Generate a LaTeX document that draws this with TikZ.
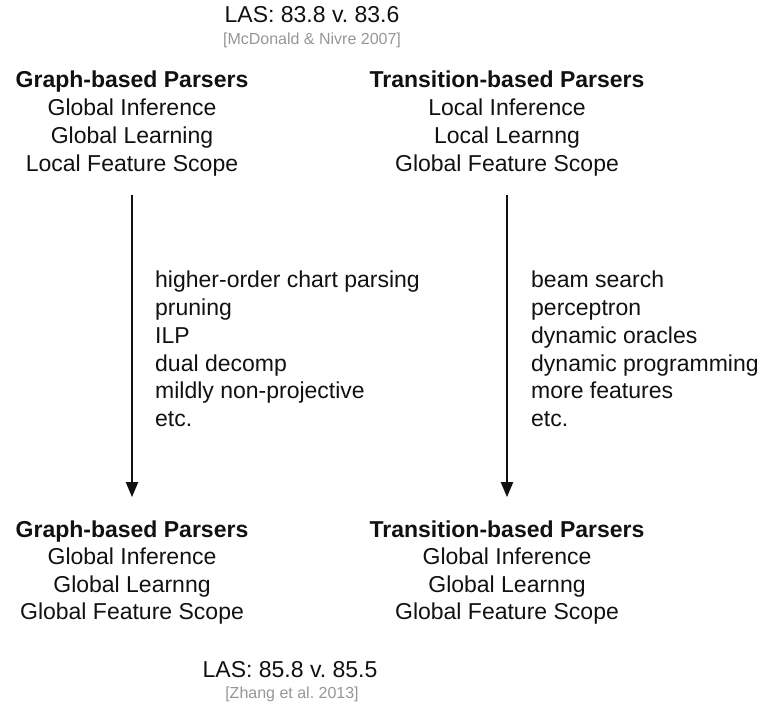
\documentclass[tikz,border=0pt]{standalone}
\usepackage{fontspec}
\setmainfont{Liberation Sans}
\usetikzlibrary{arrows.meta}
\definecolor{inkblack}{RGB}{17,17,17}
\definecolor{citegray}{RGB}{150,150,150}
\frenchspacing
\begin{document}
\begin{tikzpicture}[x=1pt,y=-1pt,
  txt/.style={inner sep=0pt, anchor=base, font=\fontsize{23}{28}\selectfont, text=inkblack},
  head/.style={txt, font=\fontsize{23}{28}\selectfont\bfseries},
  cite/.style={inner sep=0pt, anchor=base, font=\fontsize{16}{19}\selectfont, text=citegray},
  item/.style={txt, anchor=base west},
  flow/.style={draw=inkblack, line width=2pt, -{Triangle[length=15pt,width=12pt]},
               shorten <=18pt, shorten >=23pt}]
\useasboundingbox (0,0) rectangle (773,703);

% scores of the earlier systems
\node[txt]  (lasA) at (312,23) {LAS: 83.8 v. 83.6};
\node[cite] (refA) at (312,45) {[McDonald \& Nivre 2007]};

% graph-based parsers, before
\node[head] (gA)  at (132,88)  {Graph-based Parsers};
\node[txt]  (gA1) at (132,116) {Global Inference};
\node[txt]  (gA2) at (132,144) {Global Learning};
\node[txt]  (gA3) at (132,172) {Local Feature Scope};

% transition-based parsers, before
\node[head] (tA)  at (507,88)  {Transition-based Parsers};
\node[txt]  (tA1) at (507,116) {Local Inference};
\node[txt]  (tA2) at (507,144) {Local Learnng};
\node[txt]  (tA3) at (507,172) {Global Feature Scope};

% techniques for graph-based parsers
\node[item] (gi1) at (155,287) {higher-order chart parsing};
\node[item] (gi2) at (155,315) {pruning};
\node[item] (gi3) at (155,343) {ILP};
\node[item] (gi4) at (155,371) {dual decomp};
\node[item] (gi5) at (155,398) {mildly non-projective};
\node[item] (gi6) at (155,426) {etc.};

% techniques for transition-based parsers
\node[item] (ti1) at (531,287) {beam search};
\node[item] (ti2) at (531,315) {perceptron};
\node[item] (ti3) at (531,343) {dynamic oracles};
\node[item] (ti4) at (531,371) {dynamic programming};
\node[item] (ti5) at (531,398) {more features};
\node[item] (ti6) at (531,426) {etc.};

% graph-based parsers, after
\node[head] (gB)  at (132,537) {Graph-based Parsers};
\node[txt]  (gB1) at (132,564) {Global Inference};
\node[txt]  (gB2) at (132,592) {Global Learnng};
\node[txt]  (gB3) at (132,619) {Global Feature Scope};

% transition-based parsers, after
\node[head] (tB)  at (507,537) {Transition-based Parsers};
\node[txt]  (tB1) at (507,564) {Global Inference};
\node[txt]  (tB2) at (507,592) {Global Learnng};
\node[txt]  (tB3) at (507,619) {Global Feature Scope};

% scores of the later systems
\node[txt]  (lasB) at (290,677) {LAS: 85.8 v. 85.5};
\node[cite] (refB) at (292,698) {[Zhang et al. 2013]};

% progress arrows
\draw[flow] (gA3) -- (gB);
\draw[flow] (tA3) -- (tB);
\end{tikzpicture}
\end{document}
